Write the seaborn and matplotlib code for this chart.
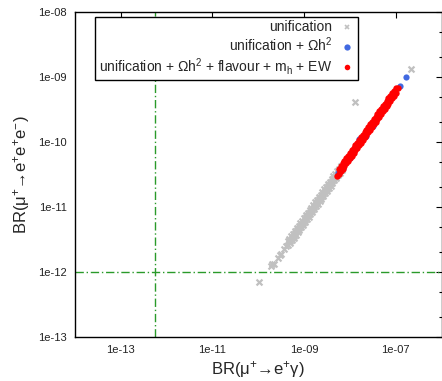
import numpy as np
import pandas as pd
import matplotlib
matplotlib.use("Agg")
import matplotlib.pyplot as plt
from matplotlib.lines import Line2D
from matplotlib.ticker import FixedLocator, LogLocator, NullFormatter, NullLocator, FuncFormatter
import seaborn as sns

# log10 of BR(mu -> e gamma) and BR(mu -> 3e) for each parameter point
gray_logx = [-9.99, -9.72, -9.69, -9.66, -9.56, -9.53, -9.50, -9.44, -9.40, -7.88, -6.66,
             -9.36, -9.32, -9.28, -9.24, -9.20, -9.16, -9.12, -9.08, -9.04, -9.00,
             -8.96, -8.92, -8.88, -8.84, -8.80, -8.76, -8.72, -8.68, -8.64, -8.60,
             -8.56, -8.52, -8.48, -8.44, -8.40, -8.36, -8.32, -8.28, -8.24, -8.20,
             -9.34, -9.30, -9.26, -9.22, -9.18, -9.14, -9.10, -9.06, -9.02, -8.98,
             -8.94, -8.90, -8.86, -8.82, -8.78, -8.74, -8.70, -8.66, -8.62, -8.58,
             -8.54, -8.50, -8.46, -8.42, -8.38, -8.34, -8.30, -8.26, -8.22, -8.18,
             -9.31, -9.27, -9.23, -9.19, -9.15, -9.11, -9.07, -9.03, -8.99, -8.95,
             -8.91, -8.87, -8.83, -8.79, -8.75, -8.71, -8.67, -8.63, -8.59, -8.55,
             -8.51, -8.47, -8.43, -8.39, -8.35, -8.31, -8.27, -8.23]
gray_logy = [-12.15, -11.91, -11.88, -11.87, -11.79, -11.74, -11.72, -11.64, -11.60, -9.39, -8.87,
             -11.53, -11.49, -11.45, -11.41, -11.37, -11.33, -11.29, -11.25, -11.21, -11.17,
             -11.13, -11.09, -11.05, -11.01, -10.97, -10.93, -10.89, -10.85, -10.81, -10.77,
             -10.73, -10.69, -10.65, -10.61, -10.57, -10.53, -10.49, -10.45, -10.41, -10.37,
             -11.59, -11.55, -11.51, -11.47, -11.43, -11.39, -11.35, -11.31, -11.27, -11.23,
             -11.19, -11.15, -11.11, -11.07, -11.03, -10.99, -10.95, -10.91, -10.87, -10.83,
             -10.79, -10.75, -10.71, -10.67, -10.63, -10.59, -10.55, -10.51, -10.47, -10.43,
             -11.52, -11.48, -11.44, -11.40, -11.36, -11.32, -11.28, -11.24, -11.20, -11.16,
             -11.12, -11.08, -11.04, -11.00, -10.96, -10.92, -10.88, -10.84, -10.80, -10.76,
             -10.72, -10.68, -10.64, -10.60, -10.56, -10.52, -10.48, -10.44]

blue_logx = [-8.25, -8.14, -8.00, -7.80, -7.65, -7.50, -7.20, -7.04, -6.91, -6.77]
blue_logy = [-10.47, -10.40, -10.24, -9.95, -9.90, -9.75, -9.38, -9.25, -9.14, -9.00]

red_logx = [-8.24, -8.20, -8.16, -8.12, -8.08, -8.04, -8.00, -7.96, -7.92, -7.88, -7.84,
            -7.80, -7.76, -7.72, -7.68, -7.64, -7.60, -7.56, -7.52, -7.48, -7.44, -7.40,
            -7.36, -7.32, -7.28, -7.24, -7.20, -7.16, -7.12, -7.08, -7.04, -7.00,
            -8.28, -8.24, -8.20, -8.16, -8.12, -8.08, -8.04, -8.00, -7.96, -7.92, -7.88,
            -7.84, -7.80, -7.76, -7.72, -7.68, -7.64, -7.60, -7.56, -7.52, -7.48, -7.44,
            -7.40, -7.36, -7.32, -7.28, -7.24, -7.20, -7.16, -7.12, -7.08, -7.04, -7.00,
            -6.96]
red_logy = [-10.41, -10.37, -10.33, -10.29, -10.25, -10.21, -10.17, -10.13, -10.09, -10.05, -10.01,
            -9.97, -9.93, -9.89, -9.85, -9.81, -9.77, -9.73, -9.69, -9.65, -9.61, -9.57,
            -9.53, -9.49, -9.45, -9.41, -9.37, -9.33, -9.29, -9.25, -9.21, -9.17,
            -10.53, -10.49, -10.45, -10.41, -10.37, -10.33, -10.29, -10.25, -10.21, -10.17, -10.13,
            -10.09, -10.05, -10.01, -9.97, -9.93, -9.89, -9.85, -9.81, -9.77, -9.73, -9.69,
            -9.65, -9.61, -9.57, -9.53, -9.49, -9.45, -9.41, -9.37, -9.33, -9.29, -9.25,
            -9.17]

series_labels = ["unification",
                 "unification + Ωh$^{2}$",
                 "unification + Ωh$^{2}$ + flavour + m$_{h}$ + EW"]

# experimental limits
meg_limit = 5.7e-13
sindrum_limit = 1e-12

x_ticks = [1e-13, 1e-11, 1e-9, 1e-7]
y_ticks = [1e-13, 1e-12, 1e-11, 1e-10, 1e-9, 1e-8]

sns.set_style("white")
plt.rcParams['font.family'] = ['Liberation Sans', 'DejaVu Sans']
plt.rcParams['mathtext.fontset'] = 'custom'
plt.rcParams['mathtext.rm'] = 'Liberation Sans'
plt.rcParams['mathtext.default'] = 'regular'

def frame(lx, ly):
    return pd.DataFrame({"x": np.power(10.0, lx), "y": np.power(10.0, ly)})

gray = frame(gray_logx, gray_logy)
blue = frame(blue_logx, blue_logy)
red = frame(red_logx, red_logy)

fig = plt.figure(figsize=(4.42, 3.81), dpi=100)
ax = fig.add_axes([75 / 442, 44 / 381, 366.5 / 442, 325 / 381])

gray_c = "#c0c0c0"
blue_c = "#4169e1"
red_c = "#ff0000"
green_c = "#2a9a2a"

ax.axhline(sindrum_limit, color=green_c, lw=1.0, dashes=(6, 2, 1, 2), zorder=1)
ax.axvline(meg_limit, color=green_c, lw=1.0, dashes=(6, 2, 1, 2), zorder=1)

sns.scatterplot(data=gray, x="x", y="y", ax=ax, marker="x", s=18, linewidth=1.6,
                color=gray_c, legend=False, zorder=2)
sns.scatterplot(data=blue, x="x", y="y", ax=ax, marker="o", s=20, linewidth=0,
                color=blue_c, legend=False, zorder=3)
sns.scatterplot(data=red, x="x", y="y", ax=ax, marker="o", s=21, linewidth=0,
                color=red_c, legend=False, zorder=4)

ax.set_xscale("log")
ax.set_yscale("log")
ax.set_xlim(1e-14, 1e-6)
ax.set_ylim(1e-13, 1e-8)

fmt = FuncFormatter(lambda v, p: f"{v:.0e}")
ax.xaxis.set_major_locator(FixedLocator(x_ticks))
ax.xaxis.set_minor_locator(NullLocator())
ax.xaxis.set_major_formatter(fmt)
ax.yaxis.set_major_locator(FixedLocator(y_ticks))
ax.yaxis.set_minor_locator(LogLocator(base=10, subs=(2.0, 5.0)))
ax.yaxis.set_minor_formatter(NullFormatter())
ax.yaxis.set_major_formatter(fmt)

ax.tick_params(which="both", direction="in", top=True, right=True,
               color="black", width=0.8, labelsize=8, labelcolor="#222222")
ax.tick_params(which="major", length=4.5, pad=6)
ax.tick_params(which="minor", length=2.5)
for sp in ax.spines.values():
    sp.set_color("black")
    sp.set_linewidth(1.0)

ax.set_xlabel("BR(μ$^{+}$→e$^{+}$γ)", fontsize=12, labelpad=3)
ax.set_ylabel("BR(μ$^{+}$→e$^{+}$e$^{+}$e$^{-}$)", fontsize=12, labelpad=4)

handles = [
    Line2D([], [], ls="none", marker="x", color=gray_c, markersize=3.5, markeredgewidth=1.2),
    Line2D([], [], ls="none", marker="o", color=blue_c, markersize=4.5, markeredgewidth=0),
    Line2D([], [], ls="none", marker="o", color=red_c, markersize=4, markeredgewidth=0),
]
leg = ax.legend(handles, series_labels, loc="upper right",
                bbox_to_anchor=(357.7 / 442, (381 - 17) / 381),
                bbox_transform=fig.transFigure, borderaxespad=0,
                markerfirst=False, fontsize=10, frameon=True, fancybox=False,
                framealpha=1, edgecolor="black", handlelength=1.0,
                handletextpad=0.6, borderpad=0.25, labelspacing=0.1)
leg.get_frame().set_linewidth(1.0)
leg.set_zorder(10)

fig.savefig("out.png", dpi=100)
